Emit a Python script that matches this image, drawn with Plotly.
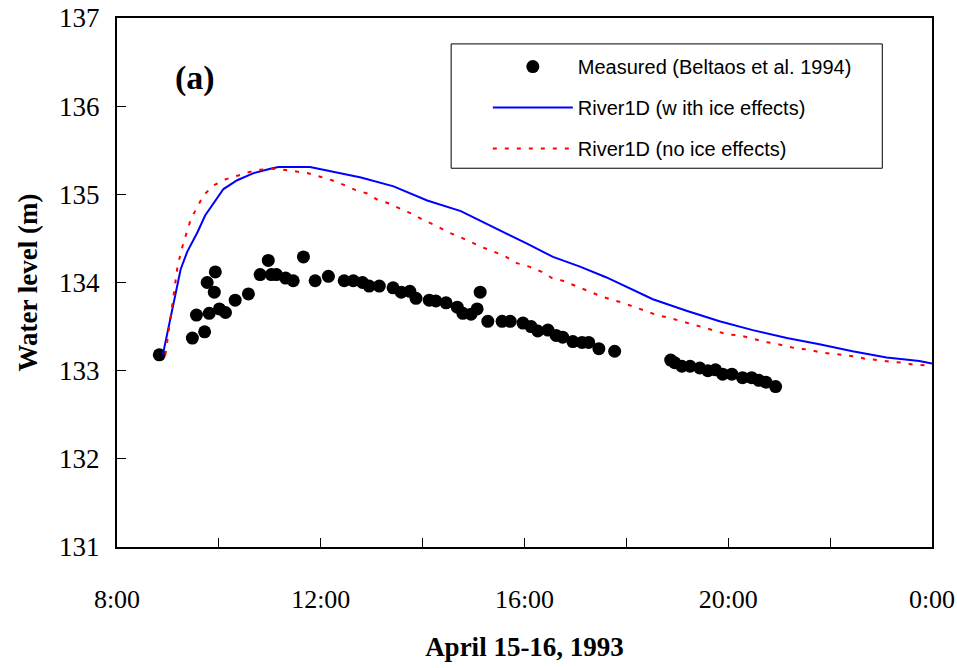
import plotly.graph_objects as go

# Time axis in decimal hours since midnight of April 15 (24 = 0:00 on April 16)
tick_hours = [8, 12, 16, 20, 24]
tick_labels = ["8:00", "12:00", "16:00", "20:00", "0:00"]

# Measured water levels (Beltaos et al. 1994)
meas_t = [8.83, 9.48, 9.56, 9.72, 9.77, 9.81, 9.91, 9.93, 10.01, 10.13, 10.32, 10.58,
          10.81, 10.97, 11.03, 11.13, 11.31, 11.46, 11.66, 11.89, 12.15, 12.46, 12.64,
          12.82, 12.95, 13.15, 13.42, 13.58, 13.75, 13.87, 14.13, 14.26, 14.46, 14.68,
          14.79, 14.95, 15.07, 15.13, 15.28, 15.56, 15.72, 15.97, 16.13, 16.26, 16.46,
          16.62, 16.75, 16.95, 17.13, 17.26, 17.46, 17.77, 18.87, 18.95, 19.09, 19.25,
          19.44, 19.60, 19.75, 19.89, 20.07, 20.28, 20.46, 20.60, 20.74, 20.93]
meas_wl = [133.18, 133.37, 133.63, 133.44, 134.00, 133.65, 133.89, 134.12, 133.70, 133.66,
           133.80, 133.87, 134.09, 134.25, 134.09, 134.09, 134.05, 134.02, 134.29, 134.02,
           134.07, 134.02, 134.02, 134.00, 133.96, 133.96, 133.94, 133.89, 133.90, 133.82,
           133.80, 133.79, 133.77, 133.72, 133.65, 133.64, 133.70, 133.89, 133.56, 133.56,
           133.56, 133.54, 133.50, 133.45, 133.46, 133.40, 133.38, 133.33, 133.32, 133.32,
           133.25, 133.22, 133.12, 133.09, 133.05, 133.05, 133.03, 133.00, 133.01, 132.96,
           132.96, 132.92, 132.92, 132.89, 132.87, 132.82]

# River1D simulation with ice effects
ice_t = [8.90, 9.06, 9.13, 9.25, 9.38, 9.58, 9.73, 9.93, 10.09, 10.36, 10.68, 11.01,
         11.17, 11.79, 12.13, 12.58, 12.79, 13.43, 14.09, 14.75, 15.39, 16.05, 16.56,
         17.09, 17.60, 18.23, 18.52, 19.18, 19.83, 20.48, 21.15, 21.79, 22.44, 23.11,
         23.75, 24.00]
ice_wl = [133.18, 133.62, 133.78, 134.15, 134.35, 134.57, 134.76, 134.93, 135.06, 135.16,
          135.24, 135.29, 135.31, 135.31, 135.27, 135.21, 135.19, 135.09, 134.93, 134.81,
          134.63, 134.44, 134.29, 134.18, 134.06, 133.89, 133.81, 133.68, 133.56, 133.46,
          133.37, 133.30, 133.22, 133.15, 133.11, 133.08]

# River1D simulation without ice effects
open_t = [8.95, 9.09, 9.19, 9.29, 9.45, 9.58, 9.70, 9.89, 10.13, 10.36, 10.58, 10.81,
          11.05, 11.26, 11.54, 11.75, 11.99, 12.22, 12.44, 12.68, 12.91, 13.11, 13.37,
          13.58, 13.79, 14.01, 14.28, 14.50, 14.72, 14.95, 15.17, 15.40, 15.64, 15.85,
          16.09, 16.34, 16.54, 16.75, 16.99, 17.22, 17.48, 17.68, 17.93, 18.17, 18.38,
          18.60, 18.84, 19.09, 19.28, 19.50, 19.78, 20.00, 20.21, 20.45, 20.68, 20.90,
          21.13, 21.35, 21.58, 21.79, 22.05, 22.26, 22.50, 22.73, 22.97, 23.18, 23.42,
          23.63, 23.86, 24.00]
open_wl = [133.18, 133.78, 134.19, 134.42, 134.72, 134.86, 134.99, 135.10, 135.17, 135.21,
           135.25, 135.28, 135.29, 135.28, 135.26, 135.24, 135.20, 135.16, 135.11, 135.05,
           135.01, 134.94, 134.89, 134.83, 134.78, 134.71, 134.64, 134.57, 134.52, 134.46,
           134.40, 134.35, 134.29, 134.22, 134.18, 134.12, 134.05, 134.02, 133.96, 133.91,
           133.85, 133.81, 133.77, 133.72, 133.68, 133.63, 133.60, 133.56, 133.53, 133.49,
           133.45, 133.41, 133.40, 133.37, 133.33, 133.31, 133.28, 133.25, 133.24, 133.21,
           133.19, 133.18, 133.16, 133.13, 133.12, 133.10, 133.09, 133.07, 133.06, 133.05]

serif = "Liberation Serif, Times New Roman, serif"
sans = "Liberation Sans, Arial, sans-serif"

fig = go.Figure()
fig.add_trace(go.Scatter(
    x=meas_t, y=meas_wl, mode="markers", name="Measured (Beltaos et al. 1994)",
    marker=dict(color="black", size=13), legendgroup="a"))
fig.add_trace(go.Scatter(
    x=ice_t, y=ice_wl, mode="lines", name="River1D (w ith ice effects)",
    line=dict(color="#0000ff", width=2), legendgroup="b"))
fig.add_trace(go.Scatter(
    x=open_t, y=open_wl, mode="lines", name="River1D (no ice effects)",
    line=dict(color="#ff0000", width=2, dash="4px,8px"), legendgroup="c"))

fig.add_annotation(text="<b>(a)</b>", x=0.096, y=0.887, xref="paper", yref="paper",
                   xanchor="center", yanchor="middle",
                   showarrow=False, font=dict(family=serif, size=34, color="black"))

# frame around the legend, leaving room on the left of the symbols
fig.add_shape(type="rect", xref="paper", yref="paper",
              x0=0.41, x1=0.939, y0=0.716, y1=0.951,
              line=dict(color="black", width=1), fillcolor="rgba(0,0,0,0)", layer="above")

fig.update_layout(
    width=957, height=668,
    margin=dict(l=117, r=25, t=18, b=121),
    paper_bgcolor="white", plot_bgcolor="white",
    showlegend=True,
    legend=dict(
        x=0.455, y=0.945, xanchor="left", yanchor="top",
        borderwidth=0, bgcolor="rgba(0,0,0,0)",
        font=dict(family=sans, size=20, color="black"),
        itemwidth=80, tracegroupgap=12, traceorder="grouped",
    ),
    xaxis=dict(
        range=[8, 24], tickvals=tick_hours, ticktext=tick_labels,
        ticks="inside", ticklen=9, tickwidth=1, tickcolor="black",
        minor=dict(tickvals=[10, 14, 18, 22], ticks="inside", ticklen=9,
                   tickwidth=1, tickcolor="black"),
        showgrid=False, zeroline=False, automargin=False,
        showline=True, linewidth=2, linecolor="black", mirror=True,
        tickfont=dict(family=serif, size=26, color="black"),
        ticklabelstandoff=28,
        title=dict(text="<b>April 15-16, 1993</b>", standoff=24,
                   font=dict(family=serif, size=27, color="black")),
    ),
    yaxis=dict(
        range=[131, 137], dtick=1,
        ticks="inside", ticklen=9, tickwidth=1, tickcolor="black",
        showgrid=False, zeroline=False, automargin=False,
        showline=True, linewidth=2, linecolor="black", mirror=True,
        tickfont=dict(family=serif, size=27, color="black"),
        ticklabelstandoff=10,
        title=dict(text="<b>Water level (m)</b>", standoff=14,
                   font=dict(family=serif, size=27, color="black")),
    ),
)

fig.write_html("out.html")
